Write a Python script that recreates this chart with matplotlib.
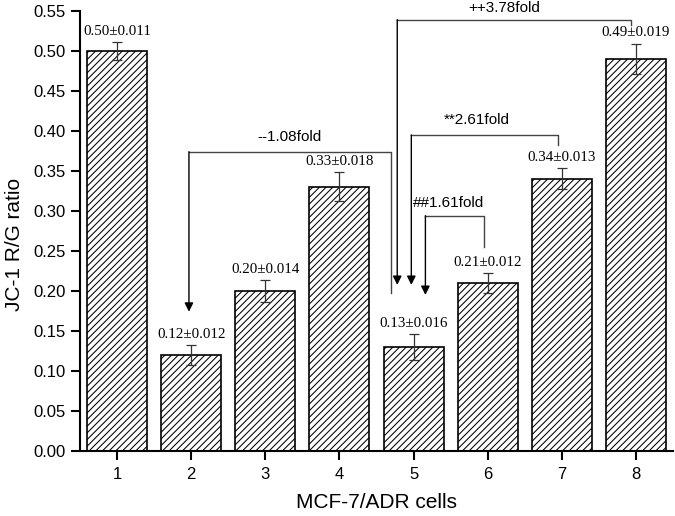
import matplotlib.pyplot as plt
import numpy as np

plt.rcParams['font.family'] = ['Liberation Sans', 'DejaVu Sans']
plt.rcParams['hatch.linewidth'] = 0.75

# bar data
groups = ['1', '2', '3', '4', '5', '6', '7', '8']
ratio = [0.50, 0.12, 0.20, 0.33, 0.13, 0.21, 0.34, 0.49]
sd = [0.011, 0.012, 0.014, 0.018, 0.016, 0.012, 0.013, 0.019]

# fold-change brackets
fold_text = ['--1.08fold', '++3.78fold', '**2.61fold', '##1.61fold']
arrow_x = [1.97, 4.78, 4.97, 5.16]
arrow_tip = [0.174, 0.2075, 0.2075, 0.195]
other_x = [4.70, 7.93, 6.95, 5.95]
other_y = [0.1975, 0.5325, 0.3825, 0.255]
top_y = [0.374, 0.539, 0.395, 0.294]
label_x = [3.32, 6.22, 5.85, 4.99]
label_y = [0.3925, 0.553, 0.413, 0.31]
label_ha = ['center', 'center', 'center', 'left']

fig, ax = plt.subplots(figsize=(6.75, 5.16), dpi=100)
fig.subplots_adjust(left=0.1185, right=0.997, bottom=0.126, top=0.979)

x = np.arange(1, len(groups) + 1)
ax.bar(x, ratio, width=0.81, color='white', edgecolor='black', hatch='/////',
       linewidth=1.2, yerr=sd, capsize=3.3,
       error_kw=dict(ecolor='#333333', elinewidth=0.9, capthick=0.9))

for xi, v, e in zip(x, ratio, sd):
    ax.annotate(f'{v:.2f}\u00b1{e:.3f}', xy=(xi, v + e), xytext=(0, 3),
                textcoords='offset points', ha='center', va='bottom',
                fontsize=10.8, family=['Liberation Serif', 'DejaVu Serif'])

for i in range(len(fold_text)):
    ax.plot([other_x[i], other_x[i], arrow_x[i]], [other_y[i], top_y[i], top_y[i]],
            color='#444444', lw=1)
    ax.annotate('', xy=(arrow_x[i], arrow_tip[i]), xytext=(arrow_x[i], top_y[i]),
                arrowprops=dict(arrowstyle='-|>', color='black', lw=1,
                                mutation_scale=13, shrinkA=0, shrinkB=0))
    ax.text(label_x[i], label_y[i], fold_text[i], ha=label_ha[i], va='center',
            fontsize=11)

ax.set_xlim(0.5, 8.5)
ax.set_ylim(0, 0.55)
ax.set_xticks(x)
ax.set_xticklabels(groups)
ax.set_yticks(np.arange(0, 0.551, 0.05))
ax.set_yticklabels([f'{t:.2f}' for t in np.arange(0, 0.551, 0.05)])
ax.tick_params(labelsize=12, width=1.5, length=6.5)
ax.tick_params(axis='x', pad=5)
ax.tick_params(axis='y', pad=4)
for s in ['top', 'right']:
    ax.spines[s].set_visible(False)
for s in ['left', 'bottom']:
    ax.spines[s].set_linewidth(1.5)

ax.set_xlabel('MCF-7/ADR cells', fontsize=15, labelpad=8)
ax.set_ylabel('JC-1 R/G ratio', fontsize=15)
ax.yaxis.set_label_coords(-0.094, 0.47)

fig.savefig('out.png', dpi=100)
